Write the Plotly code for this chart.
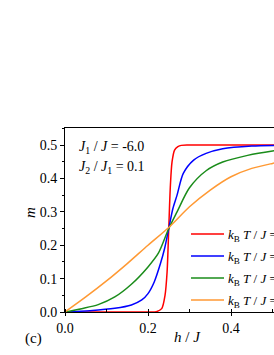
import plotly.graph_objects as go

# data
h_red = [0.0, 0.2, 0.22, 0.233, 0.241, 0.246, 0.25, 0.254, 0.258, 0.264, 0.272, 0.28, 0.3, 0.52]
m_red = [0.0, 0.0, 0.001, 0.01, 0.05, 0.12, 0.25, 0.38, 0.45, 0.485, 0.495, 0.499, 0.5, 0.5]

h_blue = [0.0, 0.06, 0.12, 0.16, 0.185, 0.2, 0.215, 0.23, 0.24, 0.25, 0.26, 0.27, 0.285, 0.31, 0.34, 0.38, 0.45, 0.52]
m_blue = [0.0, 0.004, 0.011, 0.021, 0.036, 0.055, 0.09, 0.145, 0.19, 0.25, 0.31, 0.35, 0.415, 0.455, 0.475, 0.489, 0.497, 0.499]

h_green = [0.0, 0.04, 0.08, 0.12, 0.16, 0.2, 0.225, 0.25, 0.27, 0.3, 0.34, 0.38, 0.44, 0.5, 0.52]
m_green = [0.0, 0.01, 0.022, 0.045, 0.083, 0.135, 0.176, 0.25, 0.30, 0.372, 0.423, 0.449, 0.469, 0.482, 0.485]

h_orange = [0.0, 0.05, 0.1, 0.15, 0.2, 0.25, 0.3, 0.35, 0.4, 0.45, 0.5, 0.52]
m_orange = [0.0, 0.045, 0.093, 0.145, 0.2, 0.253, 0.315, 0.365, 0.405, 0.43, 0.445, 0.45]

temps = ["0.005", "0.02", "0.04", "0.08"]
colors = ["#ff0000", "#0000ff", "#1a8c1a", "#ff9933"]

series = [(h_red, m_red), (h_blue, m_blue), (h_green, m_green), (h_orange, m_orange)]

FONT = "Liberation Serif"
W, H = 274, 355
L, T, B = 65, 128, 43
PW = W - L
PH = H - T - B


def px_x(p):
    return (p - L) / PW


def px_y(p):
    return (H - B - p) / PH


fig = go.Figure()
for (hx, my), c in zip(series, colors):
    fig.add_trace(go.Scatter(
        x=hx, y=my, mode="lines", showlegend=False,
        line=dict(color=c, width=1.5, shape="spline", smoothing=0.8),
    ))

fig.update_layout(
    width=W, height=H,
    margin=dict(l=L, r=0, t=T, b=B),
    paper_bgcolor="white", plot_bgcolor="white",
    font=dict(family=FONT, size=14, color="black"),
    showlegend=False,
    xaxis=dict(range=[0, 0.5036], dtick=0.2, tick0=0, tickformat=".1f",
               showline=True, linecolor="black", linewidth=1, mirror=True,
               ticks="outside", ticklen=3, tickcolor="black",
               minor=dict(dtick=0.1, ticks="inside", ticklen=3, tickcolor="black"),
               showgrid=False, zeroline=False,
               tickfont=dict(size=14, family=FONT, color="black")),
    yaxis=dict(range=[0, 0.551], dtick=0.1, tick0=0, tickformat=".1f",
               showline=True, linecolor="black", linewidth=1, mirror=False,
               ticks="outside", ticklen=4, tickcolor="black",
               minor=dict(dtick=0.05, ticks="outside", ticklen=2, tickcolor="black"),
               showgrid=False, zeroline=False,
               tickfont=dict(size=14, family=FONT, color="black")),
)

# legend drawn by hand so that it can run past the right edge like the reference
rows = [234, 256, 278, 300]
for t, c, ry in zip(temps, colors, rows):
    fig.add_shape(type="line", xref="paper", yref="paper",
                  x0=px_x(191), x1=px_x(224), y0=px_y(ry), y1=px_y(ry),
                  line=dict(color=c, width=1.5))
    fig.add_annotation(text="<i>k</i><sub>B</sub> <i>T</i> / <i>J</i> = " + t,
                       xref="paper", yref="paper", x=px_x(226), y=px_y(ry + 1),
                       xanchor="left", yanchor="middle", showarrow=False,
                       font=dict(size=13, family=FONT))

annots = [
    ("<i>J</i><sub>1</sub> / <i>J</i> = -6.0", 77, 147),
    ("<i>J</i><sub>2</sub> / <i>J</i><sub>1</sub> = 0.1", 77, 167),
]
for txt, ax, ay in annots:
    fig.add_annotation(text=txt, xref="paper", yref="paper",
                       x=px_x(ax), y=px_y(ay),
                       xanchor="left", yanchor="middle", showarrow=False,
                       font=dict(size=14, family=FONT))

fig.add_annotation(text="(c)", xref="paper", yref="paper",
                   x=px_x(33), y=px_y(338),
                   xanchor="center", yanchor="middle", showarrow=False,
                   font=dict(size=15, family=FONT))
fig.add_annotation(text="<i>h</i> / <i>J</i>", xref="paper", yref="paper",
                   x=px_x(187), y=px_y(337),
                   xanchor="center", yanchor="middle", showarrow=False,
                   font=dict(size=15, family=FONT))
fig.add_annotation(text="<i>m</i>", xref="paper", yref="paper",
                   x=px_x(30), y=px_y(213), textangle=-90,
                   xanchor="center", yanchor="middle", showarrow=False,
                   font=dict(size=15, family=FONT))

fig.write_html("out.html", config={"displayModeBar": False},
               post_script="document.body.style.margin='0';")
